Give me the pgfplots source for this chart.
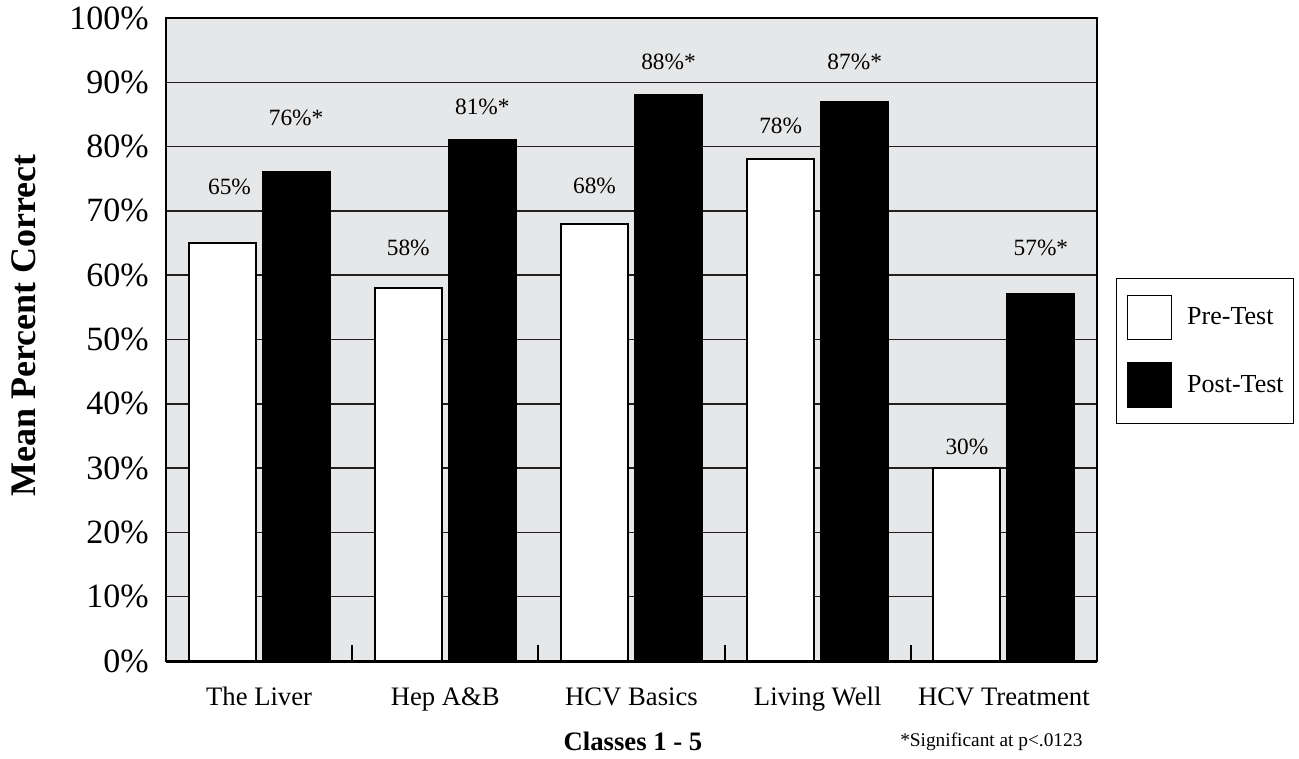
\documentclass[border=0pt]{standalone}
\usepackage{fontspec}
\setmainfont{Liberation Serif}
\usepackage{pgfplots}
\pgfplotsset{compat=1.18}
\definecolor{plotgrey}{RGB}{230,231,232}
\definecolor{gridc}{RGB}{35,31,32}

\begin{document}
\begin{tikzpicture}
\path[use as bounding box] (-124.5pt,-72.75pt) rectangle (849.75pt,495.75pt);
\begin{axis}[
  scale only axis,
  clip=false,
  width=698.25pt, height=482.25pt,
  at={(0,0)}, anchor=south west,
  xmin=-0.5, xmax=4.5, ymin=0, ymax=100,
  ybar=5.25pt, bar width=50.25pt,
  axis background/.style={fill=plotgrey},
  axis line style={line width=1.5pt, black},
  xtick={0,1,2,3,4},
  xticklabels={The Liver, Hep A\&B, HCV Basics, Living Well, HCV Treatment},
  xtick pos=left,
  major tick length=0pt,
  xticklabel style={anchor=base, yshift=-33pt, font=\fontsize{20}{24}\selectfont},
  extra x ticks={0.5,1.5,2.5,3.5},
  extra x tick labels={},
  extra x tick style={major tick length=12pt, tick align=inside, tick style={line width=1.5pt, black}},
  ytick={0,10,20,30,40,50,60,70,80,90,100},
  yticklabels={0\%,10\%,20\%,30\%,40\%,50\%,60\%,70\%,80\%,90\%,100\%},
  ytick style={draw=none},
  yticklabel style={anchor=east, inner sep=0pt, xshift=-12.75pt, font=\fontsize{25.5}{30}\selectfont},
  ymajorgrids,
  grid style={gridc, line width=1.1pt},
  ylabel={Mean Percent Correct},
  ylabel style={at={(axis description cs:-0.1525,0.522)}, anchor=center, font=\bfseries\fontsize{27}{32}\selectfont},
  xlabel={Classes 1 - 5},
  xlabel style={at={(axis description cs:0.5016,-0.1244)}, anchor=center, font=\bfseries\fontsize{20}{24}\selectfont},
  legend style={at={(1.0204,0.5957)}, anchor=north west, draw=black, line width=1.1pt, fill=white,
    inner xsep=7.5pt, inner ysep=12pt, row sep=16.5pt, column sep=11.25pt,
    font=\fontsize{19.5}{23}\selectfont, nodes={inner sep=0pt}},
  legend cell align=left,
  legend image code/.code={\draw[#1, line width=1.1pt] (0pt,-16.5pt) rectangle (33pt,16.5pt);},
]
\addplot[fill=white, draw=black, line width=1.5pt, bar shift=-27.75pt]
  coordinates {(0,65) (1,58) (2,68) (3,78) (4,30)};
\addplot[fill=black, draw=black, line width=1.5pt, bar shift=27.75pt]
  coordinates {(0,76) (1,81) (2,88) (3,87) (4,57)};
\legend{Pre-Test, Post-Test}

\addplot[draw=none, fill=none, bar shift=-27.75pt, forget plot,
  nodes near coords, point meta=explicit symbolic,
  nodes near coords style={anchor=center, text=black, font=\fontsize{17.5}{21}\selectfont}]
  coordinates {(0.04,73.7)[65\%] (1,64.2)[58\%] (2,73.9)[68\%] (3,83.2)[78\%] (4,33.3)[30\%]};
\addplot[draw=none, fill=none, bar shift=27.75pt, forget plot,
  nodes near coords, point meta=explicit symbolic,
  nodes near coords style={anchor=center, text=black, font=\fontsize{17.5}{21}\selectfont}]
  coordinates {(0,84.4)[76\%*] (1,86.2)[81\%*] (2,93.2)[88\%*] (3,93.2)[87\%*] (4,64.2)[57\%*]};

\draw[black, line width=2.25pt] (rel axis cs:0,0) -- (rel axis cs:1,0);
\node[anchor=west, inner sep=0pt, font=\fontsize{14.5}{17}\selectfont, yshift=-60.75pt]
  at (rel axis cs:0.7884,0) {*Significant at p<.0123};
\end{axis}
\end{tikzpicture}
\end{document}
